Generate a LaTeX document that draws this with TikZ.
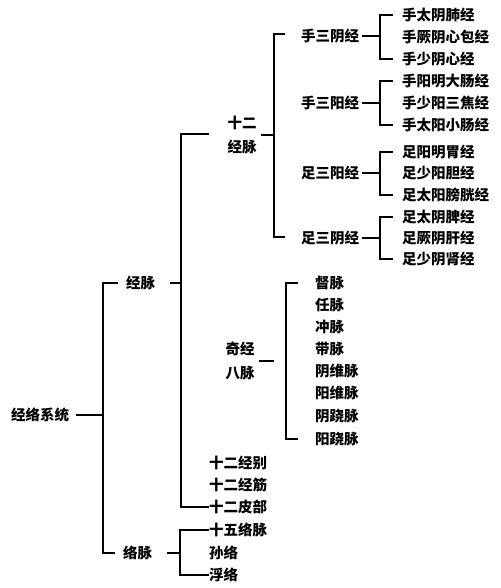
\documentclass[tikz,border=0pt]{standalone}
\usepackage{fontspec}
\newfontfamily\cjk{Noto Sans CJK SC}
\begin{document}
\begin{tikzpicture}[x=1pt,y=-1pt,
  lbl/.style={anchor=west,inner sep=0pt,font=\cjk\bfseries\fontsize{14.5}{22}\selectfont},
  mid/.style={inner sep=0pt,align=center,font=\cjk\bfseries\fontsize{14.5}{24}\selectfont},
  ln/.style={line width=1.6pt,line cap=butt}]
\useasboundingbox[fill=white] (0,0) rectangle (500,588);
% level 0/1
\node[lbl] (root) at (11,415) {经络系统};
\node[lbl] (jm) at (126,283) {经脉};
\node[lbl] (lm) at (123,553) {络脉};
% level 2
\node[mid] (sej) at (242,135) {十二\\经脉};
\node[mid] (qj) at (240,361) {奇经\\八脉};
\node[lbl] (bie) at (209,463) {十二经别};
\node[lbl] (jin) at (209,485) {十二经筋};
\node[lbl] (pi) at (209,507) {十二皮部};
\node[lbl] (swl) at (209,530) {十五络脉};
\node[lbl] (sl) at (209,553) {孙络};
\node[lbl] (fl) at (209,575) {浮络};
% level 3
\node[lbl] (g1) at (301,36) {手三阴经};
\node[lbl] (g2) at (301,103) {手三阳经};
\node[lbl] (g3) at (301,173) {足三阳经};
\node[lbl] (g4) at (301,238) {足三阴经};
% leaves
\node[lbl] (a1) at (402,15) {手太阴肺经};
\node[lbl] (a2) at (402,37) {手厥阴心包经};
\node[lbl] (a3) at (402,59) {手少阴心经};
\node[lbl] (b1) at (402,81) {手阳明大肠经};
\node[lbl] (b2) at (402,103) {手少阳三焦经};
\node[lbl] (b3) at (402,125) {手太阳小肠经};
\node[lbl] (c1) at (402,152) {足阳明胃经};
\node[lbl] (c2) at (402,173) {足少阳胆经};
\node[lbl] (c3) at (402,195) {足太阳膀胱经};
\node[lbl] (d1) at (402,217) {足太阴脾经};
\node[lbl] (d2) at (402,238) {足厥阴肝经};
\node[lbl] (d3) at (402,259) {足少阴肾经};
% qijing leaves
\node[lbl] (q1) at (315,283) {督脉};
\node[lbl] (q2) at (315,305) {任脉};
\node[lbl] (q3) at (315,327) {冲脉};
\node[lbl] (q4) at (315,349) {带脉};
\node[lbl] (q5) at (315,371) {阴维脉};
\node[lbl] (q6) at (315,393) {阳维脉};
\node[lbl] (q7) at (315,416) {阴跷脉};
\node[lbl] (q8) at (315,439) {阳跷脉};
% connectors
\coordinate (r0) at (103,415);
\draw[ln] (76,415) -- (r0);
\draw[ln] ([xshift=-8pt]jm.west) -| (r0) |- ([xshift=-8pt]lm.west);
\coordinate (s0) at (181,283);
\draw[ln] (170,283) -- (s0);
\draw[ln] (209,134) -| (s0) |- (pi.west);
\coordinate (t0) at (274,135);
\draw[ln] (261,135) -- (t0);
\draw[ln] (285,34) -| (t0) |- (285,237);
\coordinate (u0) at (286,361);
\draw[ln] (259,361) -- (274,361);
\draw[ln] ([xshift=-17pt]q1.west) -| (u0) |- ([xshift=-17pt]q8.west);
\coordinate (l0) at (180,553);
\draw[ln] (167,553) -- (l0);
\draw[ln] (swl.west) -| (l0) |- (fl.west);
\foreach \g/\a/\c in {g1/a1/a3,g2/b1/b3,g3/c1/c3,g4/d1/d3}{
  \draw[ln] ([xshift=3pt]\g.east) -- ([xshift=-22pt]\g.east -| \a.west);
  \draw[ln] ([xshift=-9pt]\a.west) -| ([xshift=-22pt]\g.east -| \a.west) |- ([xshift=-9pt]\c.west);
}
\end{tikzpicture}
\end{document}
